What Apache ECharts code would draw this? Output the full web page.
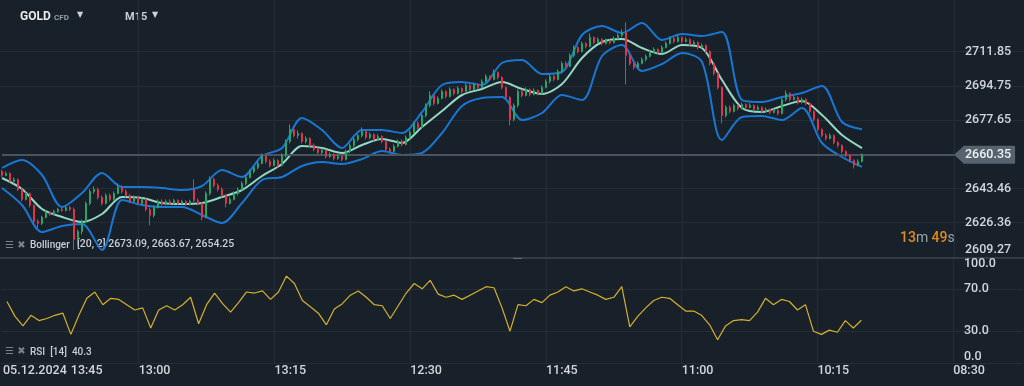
<!DOCTYPE html>
<html><head><meta charset="utf-8">
<script src="https://cdn.jsdelivr.net/npm/echarts@6/dist/echarts.min.js"></script>
<style>html,body{margin:0;padding:0;background:#182029;}#c{width:1024px;height:386px;}</style>
</head><body><div id="c"></div>
<script>
// ---- data ----
// candles: [open, close, low, high], one per 15-minute bar
const candles = [
[2652,2650,2649.2,2652.8],[2650,2651,2649.5,2652],[2651,2647,2646.5,2651.5],[2647,2648,2646,2649],[2648,2643,2642.2,2648.5],
[2643,2638,2637,2643.8],[2638,2641,2637.5,2642],[2641,2635,2634,2641.5],[2635,2627,2625,2635.5],[2627,2626,2623.5,2628],
[2626,2629,2625.2,2629.8],[2629,2631.5,2628.5,2632.5],[2631.5,2630.5,2629.8,2632.2],[2630.5,2632,2630,2632.8],[2632,2633,2631.3,2633.8],
[2633,2632.5,2631.8,2634],[2632.5,2634,2632,2635],[2634,2633,2632.2,2634.8],[2633,2618,2612.7,2634],[2618,2622,2615,2623],
[2622,2627,2620.5,2628],[2627,2636,2626,2637],[2636,2642,2635,2643],[2642,2643,2640.8,2644.5],[2643,2639,2638,2643.8],
[2639,2636,2635,2640],[2636,2640,2635.5,2641],[2640,2638,2637,2641],[2638,2641,2637.5,2642],[2641,2644,2640.5,2646],
[2644,2642,2641,2645],[2642,2640,2639,2643],[2640,2637,2636,2640.8],[2637,2639,2636.5,2640],[2639,2636,2635,2639.5],
[2636,2638,2635.2,2639],[2638,2633,2632,2638.5],[2633,2630,2625,2634],[2630,2634,2629,2635],[2634,2637,2633.5,2638],
[2637,2635.5,2634.8,2638],[2635.5,2637,2635,2638],[2637,2636,2635.2,2638],[2636,2637.5,2635.5,2638.3],[2637.5,2636,2635.2,2638],
[2636,2637,2635.5,2637.8],[2637,2635.5,2634.8,2637.5],[2635.5,2637,2635,2637.8],[2643,2637.5,2636,2648],[2637.5,2636,2635,2638.5],
[2636,2629,2627.5,2636.5],[2629,2641,2628.5,2642],[2641,2648,2640,2649.5],[2648,2645,2644,2648.8],[2645,2643,2642,2646],
[2643,2640,2639,2644],[2640,2636,2634,2640.5],[2636,2638,2635.5,2639],[2638,2641,2637.5,2642],[2641,2643,2640,2644],
[2643,2646,2642.5,2647],[2646,2649,2645,2650],[2649,2652,2648.5,2653],[2652,2654,2651,2655],[2654,2656,2653,2657.5],
[2656,2660,2655.5,2661],[2660,2657,2656,2660.5],[2657,2655,2654,2658],[2655,2657.5,2654.5,2658.5],[2657.5,2655,2654,2658],
[2655,2660,2654.5,2661],[2660,2667,2659,2668],[2667,2673,2666,2675.5],[2673,2670,2669,2674],[2670,2671,2668.5,2672.5],
[2671,2667,2666,2671.5],[2667,2668.5,2666,2669.5],[2668.5,2665,2664,2669],[2665,2663,2662,2666],[2663,2661.5,2660.5,2664],
[2661.5,2662.5,2660.5,2663.5],[2662.5,2659.5,2658.5,2663],[2659.5,2660.5,2658.8,2661.5],[2660.5,2658.5,2657.5,2661],[2658.5,2659.5,2657.8,2660.5],
[2659.5,2658,2657,2660],[2658,2662,2657.5,2663],[2662,2665,2661,2666],[2665,2668,2664,2669],[2668,2670,2667,2671],
[2670,2672,2669,2674],[2672,2669,2668,2672.5],[2669,2670.5,2668,2671.5],[2670.5,2668,2667,2671],[2668,2669.5,2667.5,2670.5],
[2669.5,2667,2666,2670],[2667,2663,2662,2667.5],[2663,2662,2661,2664],[2662,2664.5,2661.5,2665.5],[2664.5,2667,2664,2668],
[2667,2665.5,2664.5,2668],[2665.5,2669,2665,2670],[2669,2671.5,2668,2672.5],[2671.5,2676,2671,2677],[2676,2674,2673,2677],
[2674,2680,2673.5,2681],[2680,2685,2679,2686],[2685,2690,2684,2692],[2690,2686,2685,2690.5],[2686,2688.5,2685.5,2689.5],
[2688.5,2692,2688,2693],[2692,2689.5,2688.5,2692.5],[2689.5,2693,2689,2694],[2693,2691,2690,2693.5],[2691,2693.5,2690.5,2694.5],
[2693.5,2692,2691,2694],[2692,2695,2691.5,2696],[2695,2693,2692,2695.5],[2693,2695.5,2692.5,2696.5],[2695.5,2694,2693,2696],
[2694,2697,2693.5,2698],[2697,2699.5,2696.5,2700.5],[2699.5,2698,2697,2700],[2698,2701.5,2697.5,2703],[2701.5,2699,2698,2702],
[2699,2694,2693,2699.5],[2694,2689,2688,2694.5],[2689,2678,2675,2689.5],[2678,2685,2677,2686],[2685,2692,2684,2693],
[2692,2690,2689,2693],[2690,2693,2689.5,2694],[2693,2690.5,2689.5,2693.5],[2690.5,2692.5,2690,2693.5],[2692.5,2691,2690,2693],
[2691,2694,2690.5,2695],[2694,2697,2693.5,2698],[2697,2699.5,2696,2700.5],[2699.5,2698,2697,2700.5],[2698,2702,2697.5,2703],
[2702,2706,2701,2707],[2706,2704.5,2703.5,2707],[2704.5,2710,2704,2711],[2710,2714,2709,2715],[2714,2712,2711,2714.5],
[2712,2716,2711.5,2717],[2716,2714.5,2713.5,2716.5],[2714.5,2719,2714,2721],[2719,2716.5,2715.5,2719.5],[2716.5,2718,2716,2719],
[2718,2716,2715,2718.5],[2716,2717.5,2715.5,2718.5],[2717.5,2716.5,2715.5,2718],[2716.5,2718.5,2716,2719.5],[2718.5,2720,2718,2721],
[2720,2721.5,2719,2723],[2721.5,2710,2695.5,2726.5],[2710,2706,2705,2711],[2706,2704,2703,2707],[2704,2706,2703.5,2707],
[2706,2708,2705.5,2709],[2708,2709.5,2707,2710.5],[2709.5,2711.5,2709,2712.5],[2711.5,2713,2711,2714],[2713,2711.5,2710.5,2713.5],
[2711.5,2714,2711,2715],[2714,2716,2713.5,2717],[2716,2718.5,2715.5,2719.5],[2718.5,2717,2716,2719],[2717,2719,2716.5,2720.5],
[2719,2717,2716,2719.5],[2717,2718,2716.5,2719],[2718,2715.5,2714.5,2718.5],[2715.5,2716.5,2715,2717.5],[2716.5,2714,2713,2717],
[2714,2715,2713.5,2716],[2715,2712,2711,2715.5],[2712,2706,2705,2712.5],[2706,2701,2700,2706.5],[2701,2694,2693,2701.5],
[2694,2680,2676,2694.5],[2680,2684,2679,2685],[2684,2682,2681,2685],[2682,2685,2681.5,2686],[2685,2683.5,2682.5,2685.5],
[2683.5,2685.5,2683,2686.5],[2685.5,2684,2683,2686],[2684,2685,2683.5,2686],[2685,2683,2682,2685.5],[2683,2684,2682.5,2685],
[2684,2682,2681,2684.5],[2682,2683,2681.5,2684],[2683,2681.5,2680.5,2683.5],[2681.5,2682.5,2681,2683.5],[2682.5,2681,2680,2683],
[2681,2688,2680.5,2689],[2688,2691,2687,2692.5],[2691,2688,2687,2691.5],[2688,2689,2687.5,2690],[2689,2686.5,2685.5,2689.5],
[2686.5,2688,2686,2689],[2688,2686,2685,2688.5],[2686,2682,2681,2686.5],[2682,2678,2677,2682.5],[2678,2673,2672,2678.5],
[2673,2670,2669,2673.5],[2670,2668.5,2667.5,2671],[2668.5,2670,2668,2671],[2670,2666.5,2665.5,2670.5],[2666.5,2665,2664,2667],
[2665,2662,2661,2665.5],[2662,2660,2659,2662.5],[2660,2657.5,2656.5,2660.5],[2657.5,2655,2653.5,2658],[2655,2657,2654.5,2658],
[2657,2660.35,2656.5,2661]
];
// Bollinger (20, 2), read every 5 bars
const bbStep = 5;
const bbUpper = [2653.7,2657.7,2650.2,2634.2,2641.2,2651.2,2644.2,2644.2,2643.7,2642.7,2644.7,2652.7,2649.2,2659.7,2663.7,2678.7,2672.7,2663.7,2672.7,2672.7,2671.2,2681.7,2695.2,2696.7,2695.2,2706.2,2707.7,2700.7,2701.7,2720.2,2724.7,2721.2,2726.2,2717.7,2720.7,2719.7,2721.7,2687.7,2686.7,2689.2,2691.2,2694.7,2676.7,2673.09];
const bbMid   = [2648.7,2643.2,2633.2,2629.2,2626.7,2630.7,2639.2,2638.7,2636.2,2635.7,2636.2,2639.2,2642.7,2649.7,2655.7,2664.7,2663.7,2661.2,2665.2,2668.2,2666.2,2674.2,2682.2,2690.2,2693.2,2696.7,2693.2,2690.7,2695.7,2708.7,2716.7,2718.2,2713.7,2710.7,2715.2,2713.7,2697.7,2683.7,2681.7,2684.7,2687.2,2680.2,2670.2,2663.67];
const bbLower = [2643.7,2635.2,2621.7,2624.7,2625.7,2612.7,2637.7,2635.2,2634.2,2634.2,2630.2,2626.2,2636.2,2647.7,2649.2,2654.7,2656.7,2655.7,2658.2,2662.2,2660.2,2661.2,2671.2,2684.7,2688.7,2689.2,2677.7,2681.2,2690.2,2687.7,2709.7,2715.2,2702.2,2705.7,2711.2,2706.7,2667.7,2679.2,2679.7,2677.7,2683.7,2666.2,2659.2,2654.25];
// RSI(14), read every 2 bars starting at bar 1
const rsiStep = 2;
const rsi = [58,44,35,45,40,42,45,47,27,45,61,67,55,61,60,55,50,52,33,50,54,50,55,62,37,55,66,56,48,57,67,66,68,60,67,82,75,59,53,47,36,51,56,64,68,62,55,54,42,54,66,75,70,78,65,62,64,60,64,68,72,71,52,30,55,54,60,57,64,67,72,68,70,67,64,60,62,72,34,44,52,59,62,61,55,49,49,45,36,22,35,40,41,40,48,61,55,60,58,50,55,30,27,31,29,40,33,40.3];
const currentPrice = 2660.35;
const priceTicks = [2609.27, 2626.36, 2643.46, 2677.65, 2694.75, 2711.85];
const rsiTicks = [0, 30, 70, 100];
const timeLabels = ['05.12.2024','13:45','13:00','13:15','12:30','11:45','11:00','10:15','08:30'];
const timeSlots  = [0, 17, 34, 68, 102, 136, 170, 204, 238];
const gridSlots  = [34, 68, 102, 136, 170, 204, 238];
const totalSlots = 256;
const bbLegend = '[20, 2] 2673.09, 2663.67, 2654.25';
const rsiLegend = '40.3';

// ---- build ----
const cats = Array.from({length: totalSlots}, () => '');
timeSlots.forEach((s, k) => { cats[s] = timeLabels[k]; });
const gridSet = new Set(gridSlots);
const lastBar = candles.length - 1;
const bandData = arr => arr.map((v, k) => [Math.min(k * bbStep, lastBar), v]);
const rsiData = rsi.map((v, k) => [k * rsiStep + 1, v]);

const FONT = 'Roboto';
const gridLine = {show: true, lineStyle: {color: '#242d36', width: 1}};
const chart = echarts.init(document.getElementById('c'), null, {renderer: 'canvas'});
chart.setOption({
  backgroundColor: '#182029',
  animation: false,
  grid: [
    {left: 0, right: 0, top: 0, height: 258},
    {left: 0, right: 0, top: 257, height: 106}
  ],
  xAxis: [
    {type: 'category', gridIndex: 0, data: cats, boundaryGap: true,
     axisLine: {show: true, lineStyle: {color: '#3a434c', width: 1.5}}, axisTick: {show: false, alignWithLabel: true},
     axisLabel: {show: false},
     splitLine: {show: true, alignWithLabel: true, interval: (i) => gridSet.has(i), lineStyle: {color: '#242d36'}}},
    {type: 'category', gridIndex: 1, data: cats, boundaryGap: true,
     axisLine: {show: false}, axisTick: {show: false, alignWithLabel: true},
     axisLabel: {show: true, interval: 0, align: 'left', margin: 1, color: '#d2d6da', fontFamily: FONT, fontSize: 12.5, fontWeight: 500},
     splitLine: {show: true, alignWithLabel: true, interval: (i) => gridSet.has(i), lineStyle: {color: '#242d36'}}}
  ],
  yAxis: [
    {type: 'value', gridIndex: 0, position: 'right', min: 2608.7, max: 2737.7, scale: true,
     axisLine: {show: false}, axisTick: {show: false, customValues: priceTicks},
     axisLabel: {inside: true, align: 'left', margin: 59, customValues: priceTicks, color: '#d2d6da', fontFamily: FONT, fontSize: 12.5, fontWeight: 500,
                 formatter: v => v.toFixed(2), verticalAlignMinLabel: 'bottom'},
     splitLine: gridLine},
    {type: 'value', gridIndex: 1, position: 'right', min: 0, max: 100,
     axisLine: {show: false}, axisTick: {show: false, customValues: rsiTicks},
     axisLabel: {inside: true, align: 'left', margin: 59, customValues: rsiTicks, color: '#d2d6da', fontFamily: FONT, fontSize: 12.5, fontWeight: 500,
                 formatter: v => v.toFixed(1), verticalAlignMinLabel: 'bottom', verticalAlignMaxLabel: 'top'},
     splitLine: gridLine}
  ],
  series: [
    {type: 'line', name: 'upper', xAxisIndex: 0, yAxisIndex: 0, data: bandData(bbUpper), smooth: 0.3, showSymbol: false,
     lineStyle: {color: '#1877d2', width: 2}, z: 3},
    {type: 'line', name: 'lower', xAxisIndex: 0, yAxisIndex: 0, data: bandData(bbLower), smooth: 0.3, showSymbol: false,
     lineStyle: {color: '#1877d2', width: 2}, z: 3},
    {type: 'line', name: 'mid', xAxisIndex: 0, yAxisIndex: 0, data: bandData(bbMid), smooth: 0.3, showSymbol: false,
     lineStyle: {color: '#93d8c3', width: 2}, z: 4},
    {type: 'candlestick', xAxisIndex: 0, yAxisIndex: 0, data: candles, barWidth: 2,
     itemStyle: {color: '#25a567', color0: '#e0344d', borderColor: '#25a567', borderColor0: '#e0344d', borderWidth: 1},
     z: 5,
     markLine: {silent: true, symbol: ['none', 'none'],
       lineStyle: {color: '#4a545e', width: 2, type: 'solid'},
       label: {show: true, position: 'end', distance: 9, formatter: () => currentPrice.toFixed(2),
               color: '#eef1f3', fontFamily: FONT, fontSize: 12.5, fontWeight: 500,
               backgroundColor: '#56626d', padding: [3, 4, 2, 2], borderRadius: 1},
       data: [[{coord: [0, currentPrice]}, {coord: [238, currentPrice]}]]},
     markPoint: {silent: true, symbol: 'path://M0,5L10,0L10,10Z', symbolSize: [10, 18], symbolOffset: [5, 0],
       itemStyle: {color: '#56626d'}, label: {show: false},
       data: [{coord: [238, currentPrice]}]}
    },
    {type: 'line', name: 'rsi', xAxisIndex: 1, yAxisIndex: 1, data: rsiData, showSymbol: false,
     lineStyle: {color: '#d6b02a', width: 1.2}, z: 3}
  ],
  graphic: [
    {type: 'text', left: 20, top: 11, style: {text: 'GOLD', fill: '#e9ecee', font: 'bold 12px Roboto'}},
    {type: 'text', left: 54, top: 14, style: {text: 'CFD', fill: '#8e9eab', font: 'bold 8px Roboto'}},
    {type: 'text', left: 77, top: 11, style: {text: '▼', fill: '#cfd3d7', font: '8px DejaVu Sans'}},
    {type: 'text', left: 125, top: 12, style: {text: 'M15', fill: '#c9ced3', font: 'bold 11px Roboto'}},
    {type: 'text', left: 152, top: 11, style: {text: '▼', fill: '#cfd3d7', font: '8px DejaVu Sans'}},
    {type: 'text', left: 5, top: 240, style: {text: '☰ ✖', fill: '#78828c', font: '10px DejaVu Sans'}},
    {type: 'text', left: 30, top: 240, style: {text: 'Bollinger', fill: '#c9ced3', font: '500 10px Roboto'}},
    {type: 'text', left: 77, top: 239, style: {text: bbLegend, fill: '#c9ced3', font: '500 10.5px Roboto'}},
    {type: 'text', left: 5, top: 346, style: {text: '☰ ✖', fill: '#78828c', font: '10px DejaVu Sans'}},
    {type: 'text', left: 30, top: 347, style: {text: 'RSI  [14]  ' + rsiLegend, fill: '#c9ced3', font: '500 10px Roboto'}},
    {type: 'text', left: 900, top: 231, style: {
      text: '{n|13}{u|m} {n|49}{u|s}',
      rich: {n: {fill: '#e38b1c', font: '500 14px Roboto'}, u: {fill: '#9aa4ad', font: '14px Roboto'}}}},
    {type: 'rect', left: 513, top: 257, shape: {width: 9, height: 2}, style: {fill: '#d8dce0'}}
  ]
});
</script></body></html>
